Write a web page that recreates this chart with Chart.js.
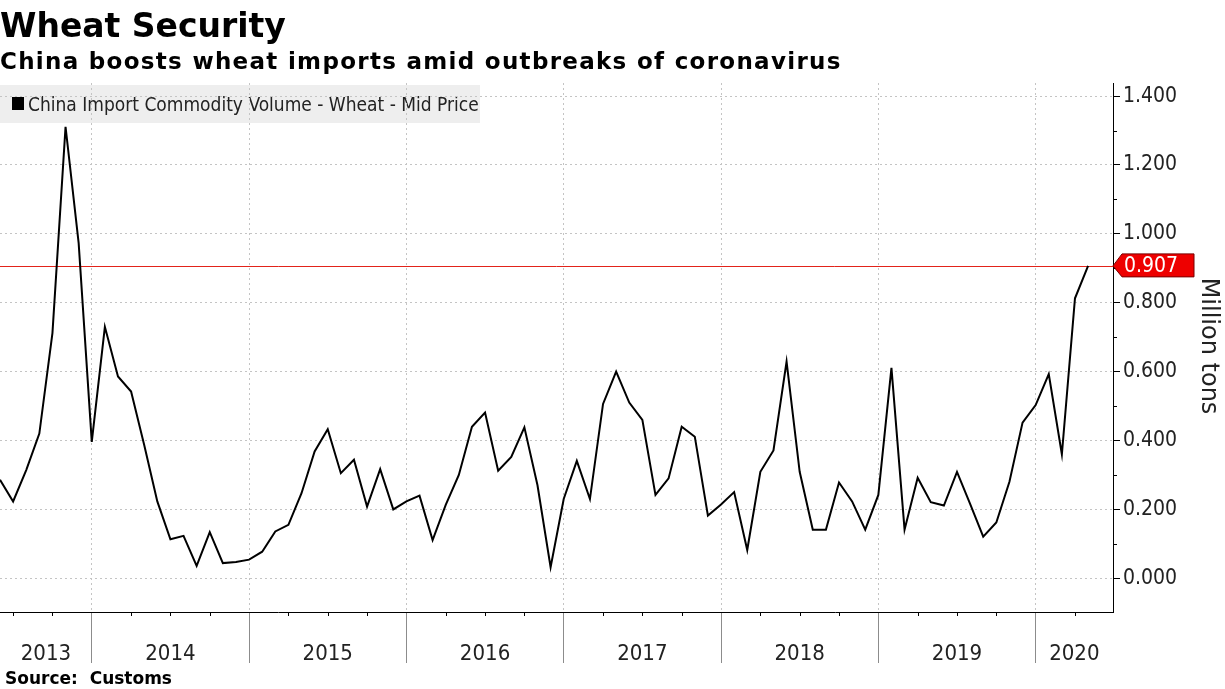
<!DOCTYPE html>
<html>
<head>
<meta charset="utf-8">
<script src="https://cdn.jsdelivr.net/npm/chart.js@4.4.1/dist/chart.umd.min.js"></script>
<style>
  html, body { margin: 0; padding: 0; background: #fff; }
  #chart { display: block; }
</style>
</head>
<body>
<canvas id="chart" width="1225" height="689"></canvas>
<script>
// monthly wheat imports, million tons, Jun 2013 .. May 2020
const years = ["2013", "2014", "2015", "2016", "2017", "2018", "2019", "2020"];
const monthsInFirstYear = 7; // Jun..Dec 2013
const volume2013 = [0.286, 0.223, 0.314, 0.420, 0.712, 1.311, 0.973];
const volume2014 = [0.396, 0.730, 0.586, 0.542, 0.387, 0.223, 0.113, 0.123, 0.036, 0.134, 0.044, 0.047];
const volume2015 = [0.054, 0.077, 0.136, 0.155, 0.247, 0.368, 0.433, 0.305, 0.344, 0.208, 0.317, 0.200];
const volume2016 = [0.223, 0.240, 0.111, 0.213, 0.300, 0.440, 0.481, 0.312, 0.352, 0.438, 0.270, 0.032];
const volume2017 = [0.230, 0.341, 0.230, 0.506, 0.600, 0.510, 0.460, 0.242, 0.290, 0.440, 0.411, 0.182];
const volume2018 = [0.214, 0.250, 0.082, 0.309, 0.371, 0.629, 0.309, 0.141, 0.141, 0.278, 0.223, 0.141];
const volume2019 = [0.242, 0.611, 0.141, 0.292, 0.221, 0.211, 0.309, 0.216, 0.121, 0.162, 0.280, 0.452];
const volume2020 = [0.503, 0.593, 0.360, 0.813, 0.907];
const yTicks = [0, 0.2, 0.4, 0.6, 0.8, 1.0, 1.2, 1.4];

const seriesName = "China Import Commodity Volume - Wheat - Mid Price";
const title = "Wheat Security";
const subtitle = "China boosts wheat imports amid outbreaks of coronavirus";
const source = "Source:  Customs";
const axisTitle = "Million tons";

const values = [].concat(volume2013, volume2014, volume2015, volume2016,
  volume2017, volume2018, volume2019, volume2020);
const points = values.map((v, i) => ({ x: i, y: v }));
const lastValue = values[values.length - 1];

// index of January for every year after the first
const yearStarts = years.slice(1).map((y, k) => monthsInFirstYear + 12 * k);
const X_MIN = 0;
const X_MAX = 84.9;

const condensed = "'DejaVu Sans Condensed', 'DejaVu Sans', sans-serif";

const decorations = {
  id: "decorations",
  beforeDraw(chart) {
    const ctx = chart.ctx;
    ctx.save();
    ctx.fillStyle = "#fff";
    ctx.fillRect(0, 0, chart.width, chart.height);

    ctx.fillStyle = "#000";
    ctx.textBaseline = "alphabetic";
    ctx.font = "bold 33px 'DejaVu Sans', sans-serif";
    ctx.fillText(title, 0, 37);
    ctx.font = "bold 23px 'DejaVu Sans', sans-serif";
    ctx.letterSpacing = "1.3px";
    ctx.fillText(subtitle, 0, 69);
    ctx.letterSpacing = "0px";

    // legend box
    ctx.fillStyle = "#eeeeee";
    ctx.fillRect(0, 85, 480, 38);
    ctx.fillStyle = "#000";
    ctx.fillRect(12, 97, 12, 13);
    ctx.fillStyle = "#222";
    ctx.font = "19px " + condensed;
    ctx.fillText(seriesName, 28, 111);
    ctx.restore();
  },
  beforeDatasetsDraw(chart) {
    const ctx = chart.ctx;
    const y = chart.scales.y.getPixelForValue(lastValue);
    const area = chart.chartArea;
    ctx.save();
    ctx.strokeStyle = "#e2231a";
    ctx.lineWidth = 1;
    ctx.beginPath();
    ctx.moveTo(area.left, Math.round(y) + 0.5);
    ctx.lineTo(area.right, Math.round(y) + 0.5);
    ctx.stroke();
    ctx.restore();
  },
  afterDraw(chart) {
    const ctx = chart.ctx;
    const xs = chart.scales.x;
    const ys = chart.scales.y;
    const area = chart.chartArea;
    ctx.save();

    // quarter ticks on the time axis
    ctx.strokeStyle = "#000";
    ctx.lineWidth = 1;
    ctx.beginPath();
    for (let i = 1; i < X_MAX; i++) {
      const monthOfYear = (i - monthsInFirstYear + 120) % 12;
      if (monthOfYear % 3 === 0 && monthOfYear !== 0) {
        const px = Math.round(xs.getPixelForValue(i)) + 0.5;
        ctx.moveTo(px, area.bottom);
        ctx.lineTo(px, area.bottom + 4);
      }
    }
    // minor ticks on the value axis
    for (let k = 0; k < yTicks.length; k++) {
      const v = yTicks[k] + 0.1;
      if (v > ys.max) continue;
      const py = Math.round(ys.getPixelForValue(v)) + 0.5;
      ctx.moveTo(area.right, py);
      ctx.lineTo(area.right + 4, py);
    }
    ctx.stroke();

    // year labels, centred in each year span
    ctx.fillStyle = "#222";
    ctx.font = "22px " + condensed;
    ctx.textAlign = "center";
    ctx.textBaseline = "alphabetic";
    const bounds = [X_MIN].concat(yearStarts, [X_MAX]);
    years.forEach((yr, k) => {
      const a = xs.getPixelForValue(bounds[k]);
      const b = xs.getPixelForValue(bounds[k + 1]);
      ctx.fillText(yr, (a + b) / 2, 660);
    });

    // source
    ctx.textAlign = "left";
    ctx.fillStyle = "#000";
    ctx.font = "bold 17px 'DejaVu Sans', sans-serif";
    ctx.fillText(source, 5, 684);

    // axis title, rotated
    ctx.save();
    ctx.translate(1208, 346);
    ctx.rotate(Math.PI / 2);
    ctx.font = "24px 'DejaVu Sans', sans-serif";
    ctx.fillStyle = "#222";
    ctx.textAlign = "center";
    ctx.textBaseline = "middle";
    ctx.fillText(axisTitle, 0, 0);
    ctx.restore();

    // last value tag
    const ty = ys.getPixelForValue(lastValue);
    const x0 = area.right;
    ctx.fillStyle = "#ee0000";
    ctx.strokeStyle = "#7a0000";
    ctx.lineWidth = 1;
    ctx.beginPath();
    ctx.moveTo(x0, ty);
    ctx.lineTo(x0 + 9, ty - 12);
    ctx.lineTo(x0 + 81, ty - 12);
    ctx.lineTo(x0 + 81, ty + 11);
    ctx.lineTo(x0 + 9, ty + 11);
    ctx.closePath();
    ctx.fill();
    ctx.stroke();
    ctx.fillStyle = "#fff";
    ctx.font = "21px " + condensed;
    ctx.textAlign = "left";
    ctx.textBaseline = "middle";
    ctx.fillText(lastValue.toFixed(3), x0 + 11, ty + 1);

    ctx.restore();
  }
};

new Chart(document.getElementById("chart"), {
  type: "line",
  data: {
    datasets: [{
      label: seriesName,
      data: points,
      borderColor: "#000",
      borderWidth: 2,
      pointRadius: 0,
      tension: 0,
      fill: false
    }]
  },
  options: {
    responsive: false,
    animation: false,
    devicePixelRatio: 1,
    layout: { padding: { top: 83, left: 0, right: 0, bottom: 0 } },
    plugins: {
      legend: { display: false },
      tooltip: { enabled: false }
    },
    scales: {
      x: {
        type: "linear",
        min: X_MIN,
        max: X_MAX,
        afterBuildTicks: (scale) => {
          scale.ticks = yearStarts.map((v) => ({ value: v }));
        },
        afterFit: (scale) => { scale.height = 77; },
        ticks: { display: false },
        grid: {
          color: "#c4c4c4",
          lineWidth: 1,
          drawTicks: true,
          tickLength: 51,
          tickColor: "#8c8c8c",
          tickWidth: 1
        },
        border: { display: true, color: "#000", width: 1, dash: [2, 3] }
      },
      y: {
        position: "right",
        min: -0.098,
        max: 1.438,
        afterBuildTicks: (scale) => {
          scale.ticks = yTicks.map((v) => ({ value: v }));
        },
        afterFit: (scale) => { scale.width = 112; },
        ticks: {
          padding: 3,
          color: "#222",
          font: { family: condensed, size: 21 },
          callback: (v) => Number(v).toFixed(3)
        },
        grid: {
          color: "#c4c4c4",
          lineWidth: 1,
          tickLength: 7,
          tickColor: "#000",
          tickWidth: 1
        },
        border: { display: true, color: "#000", width: 1, dash: [2, 3] }
      }
    }
  },
  plugins: [decorations]
});
</script>
</body>
</html>
